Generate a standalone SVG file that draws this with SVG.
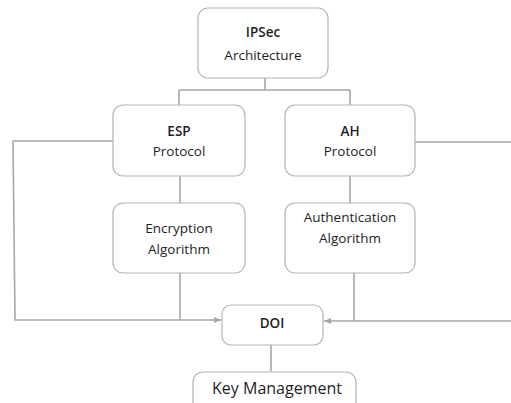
<svg xmlns="http://www.w3.org/2000/svg" width="511" height="403" viewBox="0 0 511 403">
<style>
.box{fill:#fff;stroke:#b4b4b4;stroke-width:1.2}
.t{font-family:"Open Sans","Liberation Sans",sans-serif;font-size:13.5px;fill:#1e1e1e;text-anchor:middle}
.b{font-weight:600}
.c{fill:none;stroke:#a6a6a6;stroke-width:1.6}
</style>
<defs>
<marker id="ah" markerWidth="8" markerHeight="8" refX="7" refY="4" orient="auto" markerUnits="userSpaceOnUse">
<path d="M0,1 L7,4 L0,7 Z" fill="#a6a6a6"/>
</marker>
</defs>
<rect width="511" height="403" fill="#fff"/>
<g id="connectors">
<path class="c" d="M265,78 V90 M179,90 H350 M179,90 V105 M350,90 V105"/>
<path class="c" d="M180,176 V203 M350,176 V203"/>
<path class="c" d="M113,141 H13 L15,320 H221" marker-end="url(#ah)"/>
<path class="c" d="M180,273 V320"/>
<path class="c" d="M415,142 H511"/>
<path class="c" d="M511,321 H324" marker-end="url(#ah)"/>
<path class="c" d="M354,273 V321"/>
<path class="c" d="M271,345 V371"/>
</g>
<g id="ipsec">
<rect class="box" x="198" y="8" width="130" height="70" rx="10"/>
<text class="t b" x="263" y="37">IPSec</text>
<text class="t" x="263" y="60">Architecture</text>
</g>
<g id="esp">
<rect class="box" x="113" y="105" width="132" height="71" rx="10"/>
<text class="t b" x="179" y="136">ESP</text>
<text class="t" x="179" y="156">Protocol</text>
</g>
<g id="ah">
<rect class="box" x="285" y="105" width="130" height="71" rx="10"/>
<text class="t b" x="350" y="136">AH</text>
<text class="t" x="350" y="156">Protocol</text>
</g>
<g id="enc">
<rect class="box" x="113" y="203" width="132" height="70" rx="10"/>
<text class="t" x="179" y="233">Encryption</text>
<text class="t" x="179" y="254">Algorithm</text>
</g>
<g id="auth">
<rect class="box" x="285" y="203" width="130" height="70" rx="10"/>
<text class="t" x="350" y="222">Authentication</text>
<text class="t" x="350" y="243">Algorithm</text>
</g>
<g id="doi">
<rect class="box" x="222" y="305" width="101" height="40" rx="9"/>
<text class="t b" x="272" y="328">DOI</text>
</g>
<g id="key">
<rect class="box" x="193" y="372" width="163" height="45" rx="10"/>
<text class="t" x="277" y="394" style="font-size:16px">Key Management</text>
</g>
</svg>
